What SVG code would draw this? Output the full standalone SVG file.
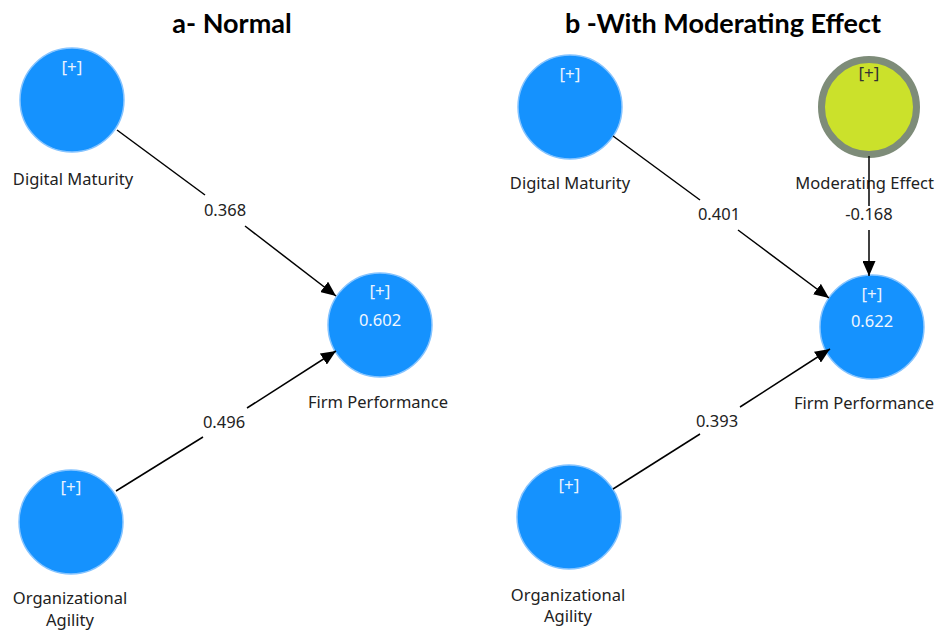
<svg xmlns="http://www.w3.org/2000/svg" width="937" height="633" viewBox="0 0 937 633">
<defs>
<marker id="arr" markerWidth="15" markerHeight="13" refX="15" refY="6.5" orient="auto" markerUnits="userSpaceOnUse">
<path d="M0,0 L15,6.5 L0,13 Z" fill="#000"/>
</marker>
<style>
.title{font-family:Lato,"Liberation Sans",sans-serif;font-weight:bold;font-size:27px;fill:#000;text-anchor:middle}
.lv{fill:#1592fe;stroke:#86c4ff;stroke-width:1.5}
.mod{fill:#cbe12b;stroke:#7e8c79;stroke-width:7}
.plus{font-family:"Noto Sans","Open Sans",sans-serif;font-size:17px;fill:#e8f3ff;text-anchor:middle}
.plusd{font-family:"Noto Sans","Open Sans",sans-serif;font-size:17px;fill:#333;text-anchor:middle}
.r2{font-family:"Noto Sans","Open Sans",sans-serif;font-size:16.5px;fill:#f0f7ff;text-anchor:middle}
.lbl{font-family:"Noto Sans","Open Sans",sans-serif;font-size:16.5px;fill:#222;text-anchor:middle}
.lble{font-family:"Noto Sans","Open Sans",sans-serif;font-size:16.5px;fill:#222;text-anchor:end}
.el{font-family:"Noto Sans","Open Sans",sans-serif;font-size:16.5px;fill:#222;text-anchor:middle}
.edge{stroke:#000;stroke-width:1.5;fill:none}
</style>
</defs>
<rect width="937" height="633" fill="#fff"/>
<text class="title" x="232" y="33">a- Normal</text>
<text class="title" x="723" y="33">b -With Moderating Effect</text>

<g id="a-dm">
<circle class="lv" cx="72" cy="100" r="52"/>
<text class="plus" x="72" y="73">[+]</text>
<text class="lbl" x="73" y="185">Digital Maturity</text>
</g>
<g id="a-fp">
<circle class="lv" cx="380" cy="325" r="52"/>
<text class="plus" x="380" y="297">[+]</text>
<text class="r2" x="380" y="326">0.602</text>
<text class="lbl" x="378" y="408">Firm Performance</text>
</g>
<g id="a-oa">
<circle class="lv" cx="71" cy="522" r="52"/>
<text class="plus" x="71" y="493">[+]</text>
<text class="lbl" x="70" y="604">Organizational</text>
<text class="lbl" x="70" y="626">Agility</text>
</g>

<g id="b-dm">
<circle class="lv" cx="570" cy="107" r="52"/>
<text class="plus" x="570" y="80">[+]</text>
<text class="lbl" x="570" y="189">Digital Maturity</text>
</g>
<g id="b-me">
<circle class="mod" cx="869" cy="107" r="47.5"/>
<text class="plusd" x="869" y="79">[+]</text>
<text class="lble" x="934" y="189">Moderating Effect</text>
</g>
<g id="b-fp">
<circle class="lv" cx="872" cy="327" r="52"/>
<text class="plus" x="872" y="300">[+]</text>
<text class="r2" x="872" y="327">0.622</text>
<text class="lble" x="934" y="409">Firm Performance</text>
</g>
<g id="b-oa">
<circle class="lv" cx="569" cy="517" r="52"/>
<text class="plus" x="569" y="491">[+]</text>
<text class="lbl" x="568" y="601">Organizational</text>
<text class="lbl" x="568" y="622">Agility</text>
</g>

<g id="connectors">
<line class="edge" x1="117" y1="130" x2="205" y2="195"/>
<line class="edge" x1="245" y1="226" x2="336" y2="296" marker-end="url(#arr)"/>
<text class="el" x="225" y="216">0.368</text>

<line class="edge" x1="116" y1="491" x2="203" y2="437"/>
<line class="edge" x1="247" y1="408" x2="336" y2="351" marker-end="url(#arr)"/>
<text class="el" x="224" y="428">0.496</text>

<line class="edge" x1="613" y1="136" x2="700" y2="200"/>
<line class="edge" x1="738" y1="230" x2="829" y2="298" marker-end="url(#arr)"/>
<text class="el" x="719" y="220">0.401</text>

<line class="edge" x1="613" y1="489" x2="700" y2="434"/>
<line class="edge" x1="740" y1="407" x2="830" y2="349" marker-end="url(#arr)"/>
<text class="el" x="717" y="427">0.393</text>

<line class="edge" x1="869" y1="156" x2="869" y2="206"/>
<line class="edge" x1="869" y1="230" x2="869" y2="276" marker-end="url(#arr)"/>
<text class="el" x="869" y="220">-0.168</text>
</g>
</svg>
